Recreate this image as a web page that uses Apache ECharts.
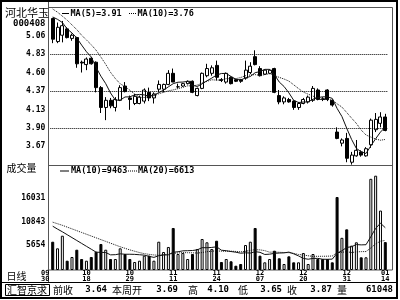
<!DOCTYPE html>
<html><head><meta charset="utf-8">
<script src="https://cdn.jsdelivr.net/npm/echarts@6/dist/echarts.min.js"></script>
<style>html,body{margin:0;padding:0;background:#fff}#c{width:400px;height:300px}</style>
</head><body><div id="c"></div>
<script>
const stockName = '河北华玉';
const stockCode = '000408';
const tickDates = ['09/30','10/18','10/29','11/11','11/24','12/07','12/20','12/31','01/14'];
const tickBars = [0,7,16,25,34,43,52,61,69];
const opens = [5.28,4.99,5.07,5.15,5.03,5.04,4.73,4.70,4.78,4.73, 4.41,4.16,4.25,4.16,4.25,4.43,4.28,4.21,4.21,4.24,
  4.35,4.28,4.39,4.39,4.45,4.59,4.42,4.43,4.46,4.49, 4.31,4.40,4.56,4.59,4.69,4.51,4.48,4.54,4.51,4.51,
  4.53,4.60,4.80,4.65,4.58,4.59,4.65,4.31,4.23,4.26, 4.24,4.16,4.21,4.23,4.25,4.38,4.27,4.38,4.25,3.85,
  3.71,3.77,3.47,3.55,3.60,3.55,3.69,3.88,3.96,4.04];
const closes = [5.02,5.17,5.19,5.04,5.07,4.71,4.72,4.77,4.71,4.41, 4.16,4.25,4.18,4.26,4.41,4.36,4.26,4.30,4.29,4.38,
  4.28,4.33,4.45,4.45,4.59,4.48,4.42,4.46,4.49,4.35, 4.40,4.59,4.65,4.66,4.54,4.50,4.59,4.46,4.49,4.49,
  4.63,4.68,4.70,4.56,4.63,4.63,4.35,4.23,4.28,4.23, 4.16,4.21,4.26,4.29,4.40,4.26,4.26,4.26,4.19,3.77,
  3.75,3.52,3.56,3.62,3.56,3.64,4.00,4.01,4.04,3.87];
const lows = [4.97,4.97,4.98,5.03,5.00,4.66,4.60,4.63,4.70,4.35, 4.09,4.00,4.15,4.11,4.24,4.35,4.13,4.19,4.20,4.21,
  4.24,4.21,4.35,4.35,4.44,4.48,4.40,4.42,4.45,4.34, 4.30,4.39,4.54,4.56,4.50,4.48,4.46,4.45,4.48,4.47,
  4.51,4.58,4.69,4.55,4.57,4.58,4.34,4.20,4.20,4.22, 4.13,4.13,4.20,4.21,4.23,4.25,4.24,4.24,4.17,3.76,
  3.67,3.47,3.44,3.54,3.54,3.54,3.65,3.85,3.91,3.86];
const highs = [5.29,5.23,5.25,5.17,5.09,5.05,4.75,4.79,4.79,4.74, 4.43,4.29,4.28,4.29,4.44,4.48,4.31,4.33,4.31,4.40,
  4.41,4.35,4.50,4.46,4.63,4.65,4.46,4.47,4.50,4.50, 4.41,4.60,4.71,4.69,4.75,4.53,4.60,4.55,4.52,4.52,
  4.75,4.73,4.88,4.68,4.64,4.64,4.66,4.38,4.30,4.28, 4.25,4.23,4.28,4.31,4.43,4.40,4.29,4.39,4.26,3.91,
  3.77,3.84,3.60,3.75,3.62,3.66,4.02,4.09,4.10,4.08];
const ma5 = [5.30,5.27,5.23,5.15,5.098,5.036,4.946,4.862,4.796,4.664, 4.554,4.460,4.342,4.252,4.252,4.292,4.294,4.318,4.324,4.318,
  4.302,4.316,4.346,4.378,4.420,4.460,4.478,4.480,4.488,4.440, 4.424,4.458,4.496,4.530,4.568,4.588,4.588,4.550,4.516,4.506,
  4.532,4.550,4.598,4.612,4.640,4.640,4.574,4.480,4.424,4.344, 4.250,4.222,4.228,4.230,4.264,4.284,4.294,4.294,4.274,4.148,
  4.046,3.898,3.758,3.644,3.602,3.580,3.676,3.766,3.850,3.912];
const ma10 = [5.40,5.36,5.31,5.26,5.20,5.14,5.07,5.01,4.95,4.881, 4.795,4.703,4.602,4.524,4.458,4.423,4.377,4.330,4.288,4.285,
  4.297,4.305,4.332,4.351,4.369,4.381,4.397,4.413,4.433,4.430, 4.442,4.468,4.488,4.509,4.504,4.506,4.523,4.523,4.523,4.537,
  4.560,4.569,4.574,4.564,4.573,4.586,4.562,4.539,4.518,4.492, 4.445,4.398,4.354,4.327,4.304,4.267,4.258,4.261,4.252,4.206,
  4.165,4.096,4.026,3.959,3.875,3.813,3.787,3.762,3.747,3.757];
const volumes = [6330,4850,7670,2080,2910,4540,2460,2080,2910,4090, 5820,4540,2460,2460,4850,3580,2460,1790,2080,3200,
  3200,2080,6330,4030,5150,9400,3580,3800,2460,3580, 4700,6930,6200,4700,6550,1790,2460,1950,960,1340,
  5590,6330,9400,3200,1720,2460,4320,2620,1340,3060, 1720,1720,3800,1340,3580,2460,2460,2460,1720,16330,
  7200,9100,5440,6200,2840,2840,20400,21100,13300,6250];
const volMa10 = [9800,9150,8550,7900,7250,6600,5950,5300,4650,3992, 3941,3910,3389,3427,3621,3525,3525,3496,3413,3324,
  3062,2816,3203,3360,3390,3972,4084,4285,4323,4361, 4511,4996,4983,5050,5190,4429,4317,4132,3982,3758,
  3847,3787,4107,3957,3474,3541,3727,3794,3832,4004, 3617,3156,2596,2410,2596,2596,2410,2394,2432,3759,
  4307,5045,5209,5695,5621,5659,7453,9317,10475,9463];
const volMa20 = [10700,10350,10000,9600,9200,8800,8400,8000,7600,7200, 6800,6400,6000,5600,5200,4850,4500,4200,3900,3658,
  3502,3363,3296,3394,3506,3749,3805,3891,3868,3843, 3787,3906,4093,4205,4290,4201,4201,4209,4153,4060,
  4179,4392,4545,4504,4332,3985,4022,3963,3907,3881, 3732,3472,3352,3184,3035,3069,3069,3094,3132,3882,
  3962,4101,3903,4053,4109,4128,4932,5856,6454,6613];
const priceTicks = [3.67, 3.90, 4.13, 4.37, 4.60, 4.83, 5.06];
const priceGridLines = [3.90, 4.37, 4.83];
const volumeTicks = [5654, 10843, 16031];
const infoTitle = '汇智京求';
const infoLabels = ['前收', '本周开', '高', '低', '收', '量'];
const infoValues = ['3.64', '3.69', '4.10', '3.65', '3.87', '61048'];

const N = closes.length;
const catMonth = Array.from({length: N}, (_, i) => { const k = tickBars.indexOf(i); return k >= 0 ? tickDates[k].split('/')[0] : ''; });
const catDay = Array.from({length: N}, (_, i) => { const k = tickBars.indexOf(i); return k >= 0 ? tickDates[k].split('/')[1] : ''; });
const candleData = closes.map((c, i) => [opens[i], c, lows[i], highs[i]]);
const volData = volumes.map((v, i) => ({
  value: v,
  itemStyle: closes[i] >= opens[i] ? {color: '#fff', borderColor: '#000', borderWidth: 1} : {color: '#000', borderColor: '#000', borderWidth: 1}
}));

const MONO = '"DejaVu Sans Mono", monospace';
const CJK = '"Noto Sans CJK SC", sans-serif';
const PL = 50.3, PW = 337.4;

function txt(text, x, y, font, align) {
  return {type: 'text', silent: true, z: 10, style: {text, x, y, font, fill: '#000', align: align || 'left', verticalAlign: 'middle'}};
}
function ln(x1, y1, x2, y2, stroke, dash, w) {
  return {type: 'line', silent: true, shape: {x1, y1, x2, y2}, style: {stroke: stroke || '#000', lineWidth: w || 1, lineDash: dash || null}};
}
const fmt2 = v => v.toFixed(2);

const graphics = [
  {type: 'rect', silent: true, shape: {x: 1, y: 1, width: 396, height: 297}, style: {fill: null, stroke: '#000', lineWidth: 2}},
  {type: 'rect', silent: true, shape: {x: 48.5, y: 7.5, width: 344, height: 262.5}, style: {fill: null, stroke: '#555', lineWidth: 1}},
  ln(48.5, 165.5, 392.5, 165.5, '#555'),
  ln(48.5, 2, 48.5, 282.5, '#555'),
  ln(2, 282.5, 397, 282.5, '#000'),
  {type: 'rect', silent: true, shape: {x: 5.5, y: 284.5, width: 44, height: 11}, style: {fill: null, stroke: '#000', lineWidth: 1}},
  txt(stockName, 5, 13, '11px ' + CJK),
  txt(stockCode, 45.5, 23.5, 'bold 9px ' + MONO, 'right'),
  txt('成交量', 6.5, 168, '10px ' + CJK),
  txt('日线', 6.5, 276, '10px ' + CJK),
  ln(62, 13.5, 69, 13.5, '#000'),
  txt('MA(5)=' + fmt2(ma5[N - 1]), 70.5, 13.5, 'bold 8.5px ' + MONO),
  ln(129, 13.5, 136, 13.5, '#000', [1, 1]),
  txt('MA(10)=' + fmt2(ma10[N - 1]), 137.5, 13.5, 'bold 8.5px ' + MONO),
  ln(60, 171, 69, 171, '#000'),
  txt('MA(10)=' + Math.round(volMa10[N - 1]), 71, 171, 'bold 8.5px ' + MONO),
  ln(128, 171, 137, 171, '#000', [1, 1]),
  txt('MA(20)=' + Math.round(volMa20[N - 1]), 138, 171, 'bold 8.5px ' + MONO),
  txt(infoTitle, 7, 290, '10px ' + CJK)
];
const infoLabelX = [53, 112, 188, 238, 287, 337];
const infoValueRight = [107, 178, 229, 282, 332, 393];
infoLabels.forEach((l, i) => {
  graphics.push(txt(l, infoLabelX[i], 290, '10px ' + CJK));
  graphics.push(txt(infoValues[i], infoValueRight[i], 290, 'bold 9px ' + MONO, 'right'));
});

function dateAxis(data, margin) {
  return {type: 'category', gridIndex: 1, data, boundaryGap: true, position: 'bottom',
    axisLine: {show: false}, axisTick: {show: false}, splitLine: {show: false},
    axisLabel: {show: true, margin, interval: (i, v) => v !== '', color: '#000',
      fontFamily: MONO, fontWeight: 'bold', fontSize: 7, lineHeight: 6,
      formatter: (v, i) => i === 0 ? '{f|' + v + '}' : v,
      rich: {f: {fontFamily: MONO, fontWeight: 'bold', fontSize: 7, lineHeight: 6, color: '#000', padding: [0, 15, 0, 0]}}}};
}

const chart = echarts.init(document.getElementById('c'), null, {renderer: 'canvas'});
chart.setOption({
  animation: false,
  backgroundColor: '#fff',
  grid: [
    {left: PL, width: PW, top: 8, height: 157},
    {left: PL, width: PW, top: 166, height: 104}
  ],
  xAxis: [
    {type: 'category', gridIndex: 0, data: catDay, boundaryGap: true,
     axisLine: {show: false}, axisTick: {show: false}, axisLabel: {show: false}, splitLine: {show: false}},
    dateAxis(catMonth, 0.5),
    dateAxis(catDay, 5.8)
  ],
  yAxis: [
    {type: 'value', gridIndex: 0, min: 3.435, max: 5.413,
     axisLine: {show: false}, axisTick: {show: false}, splitLine: {show: false},
     axisLabel: {show: true, customValues: priceTicks, formatter: v => v.toFixed(2), margin: 5,
       fontFamily: MONO, fontWeight: 'bold', fontSize: 8, color: '#000'}},
    {type: 'value', gridIndex: 1, min: 0, max: 23270,
     axisLine: {show: false}, axisTick: {show: false}, splitLine: {show: false},
     axisLabel: {show: true, customValues: volumeTicks, formatter: v => String(v), margin: 5,
       fontFamily: MONO, fontWeight: 'bold', fontSize: 8, color: '#000'}}
  ],
  series: [
    {type: 'candlestick', xAxisIndex: 0, yAxisIndex: 0, data: candleData, barWidth: 3.5,
     itemStyle: {color: '#fff', color0: '#000', borderColor: '#000', borderColor0: '#000', borderWidth: 1},
     markLine: {silent: true, symbol: ['none', 'none'], label: {show: false}, animation: false,
       lineStyle: {type: [1, 1], color: '#000', width: 1},
       data: priceGridLines.map(v => ({yAxis: v}))}},
    {type: 'line', xAxisIndex: 0, yAxisIndex: 0, data: ma5, symbol: 'none', clip: true,
     lineStyle: {color: '#111', width: 1}},
    {type: 'line', xAxisIndex: 0, yAxisIndex: 0, data: ma10, symbol: 'none', clip: true,
     lineStyle: {color: '#111', width: 1, type: [1, 1]}},
    {type: 'bar', xAxisIndex: 1, yAxisIndex: 1, data: volData, barWidth: 3},
    {type: 'line', xAxisIndex: 1, yAxisIndex: 1, data: volMa10, symbol: 'none', clip: true,
     lineStyle: {color: '#111', width: 1}},
    {type: 'line', xAxisIndex: 1, yAxisIndex: 1, data: volMa20, symbol: 'none', clip: true,
     lineStyle: {color: '#111', width: 1, type: [1, 1]}}
  ],
  graphic: graphics
});
</script>
</body></html>
